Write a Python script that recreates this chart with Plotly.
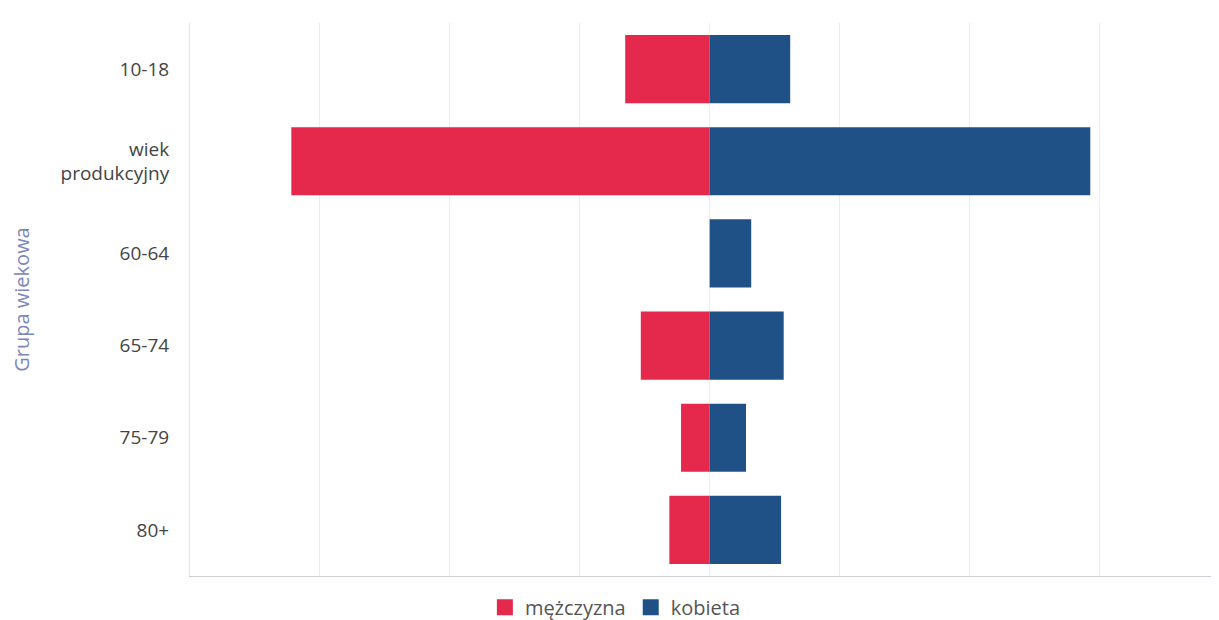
import plotly.graph_objects as go

categories = ["10-18", "wiek<br>produkcyjny", "60-64", "65-74", "75-79", "80+"]
male = [65, 322, 0, 53, 22, 31]
female = [62, 293, 32, 57, 28, 55]
series_names = ["mężczyzna", "kobieta"]
colors = ["#e5294d", "#1f5187"]

fig = go.Figure()
fig.add_trace(go.Bar(y=categories, x=[-v for v in male], orientation="h",
                     name=series_names[0], marker=dict(color=colors[0], line=dict(width=0)),
                     hoverinfo="skip", showlegend=False))
fig.add_trace(go.Bar(y=categories, x=female, orientation="h",
                     name=series_names[1], marker=dict(color=colors[1], line=dict(width=0)),
                     hoverinfo="skip", showlegend=False))
# legend entries with larger square symbols
for name, c in zip(series_names, colors):
    fig.add_trace(go.Scatter(x=[None], y=[None], mode="markers", name=name,
                             marker=dict(symbol="square", size=20, color=c)))

fig.update_layout(
    width=1211, height=612,
    barmode="relative", bargap=0.26,
    margin=dict(l=182, r=4, t=15, b=44),
    plot_bgcolor="white", paper_bgcolor="white",
    font=dict(family="Open Sans, sans-serif", color="#444"),
    legend=dict(orientation="h", x=0.415, xanchor="center",
                yref="container", y=0.021, yanchor="middle",
                font=dict(size=20, color="#555"), itemwidth=30, traceorder="normal",
                tracegroupgap=0),
    xaxis=dict(range=[-400, 389], dtick=100, tick0=0, showticklabels=False,
               showgrid=True, gridcolor="#ececf4", gridwidth=1, zeroline=False,
               showline=True, linecolor="#cfcfd8", linewidth=1, fixedrange=True,
               automargin=False),
    yaxis=dict(autorange="reversed", showgrid=False, showline=True, linecolor="#e4e4ef",
               ticks="", ticklabelstandoff=16, automargin=False,
               tickfont=dict(size=19, color="#444"),
               title=dict(text="Grupa wiekowa", font=dict(size=20, color="#7b86ba"), standoff=29)),
)

fig.write_html("out.html")
